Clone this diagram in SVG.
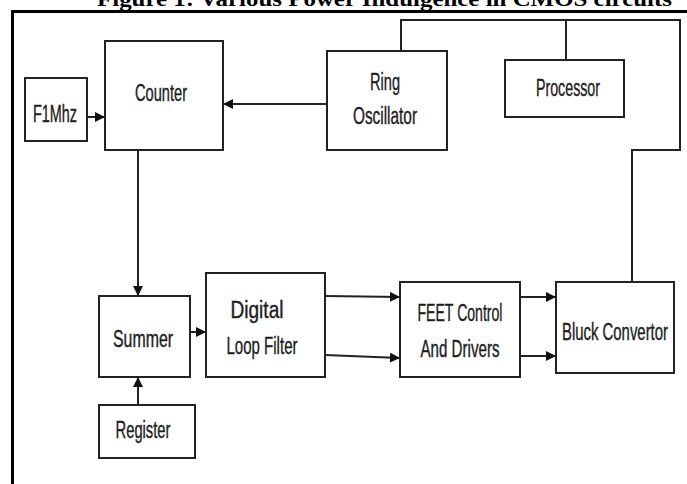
<svg xmlns="http://www.w3.org/2000/svg" width="687" height="484" viewBox="0 0 687 484">
<defs>
<style>
.box{fill:#fff;stroke:#222;stroke-width:2}
.lbl{font-family:"Liberation Sans","Open Sans",sans-serif;font-size:23px;fill:#1e1e1e;stroke:#1e1e1e;stroke-width:0.4;text-anchor:middle}
.con{fill:none;stroke:#222;stroke-width:2}
.title{font-family:"Liberation Serif","Times New Roman",serif;font-weight:bold;font-size:22px;fill:#000}
</style>
<marker id="ah" viewBox="0 0 10 10" refX="10" refY="5" markerWidth="10" markerHeight="10" markerUnits="userSpaceOnUse" orient="auto">
<path d="M0,0 L10,5 L0,10 z" fill="#111"/>
</marker>
</defs>
<rect width="687" height="484" fill="#fff"/>
<text class="title" x="97" y="6" textLength="575" lengthAdjust="spacingAndGlyphs">Figure 1: Various Power Indulgence in CMOS circuits</text>
<g id="frame">
<line x1="11" y1="11.5" x2="687" y2="11.5" stroke="#000" stroke-width="3"/>
<line x1="12.5" y1="10" x2="12.5" y2="484" stroke="#000" stroke-width="3"/>
</g>
<g id="connectors">
<line class="con" x1="87" y1="117" x2="105" y2="117" marker-end="url(#ah)"/>
<line class="con" x1="327" y1="104" x2="223" y2="104" marker-end="url(#ah)"/>
<polyline class="con" points="401,51 401,20 680,20 680,150 632,150 632,282"/>
<line class="con" x1="566" y1="20" x2="566" y2="60"/>
<line class="con" x1="138" y1="150" x2="138" y2="296" marker-end="url(#ah)"/>
<line class="con" x1="138" y1="405" x2="138" y2="377" marker-end="url(#ah)"/>
<line class="con" x1="190" y1="332" x2="206" y2="332" marker-end="url(#ah)"/>
<line class="con" x1="325" y1="296" x2="400" y2="297" marker-end="url(#ah)"/>
<line class="con" x1="325" y1="355" x2="400" y2="358" marker-end="url(#ah)"/>
<line class="con" x1="520" y1="297" x2="556" y2="297" marker-end="url(#ah)"/>
<line class="con" x1="520" y1="356" x2="556" y2="356" marker-end="url(#ah)"/>
</g>
<g id="f1mhz"><rect class="box" x="25" y="78" width="62" height="63"/><text class="lbl" x="55" y="122" textLength="44" lengthAdjust="spacingAndGlyphs">F1Mhz</text></g>
<g id="counter"><rect class="box" x="105" y="41" width="118" height="109"/><text class="lbl" x="161" y="101" textLength="52" lengthAdjust="spacingAndGlyphs">Counter</text></g>
<g id="ring"><rect class="box" x="327" y="51" width="120" height="99"/><text class="lbl" x="385" y="90" textLength="30" lengthAdjust="spacingAndGlyphs">Ring</text><text class="lbl" x="385" y="124" textLength="64" lengthAdjust="spacingAndGlyphs">Oscillator</text></g>
<g id="processor"><rect class="box" x="505" y="60" width="119" height="57"/><text class="lbl" x="568" y="96" textLength="64" lengthAdjust="spacingAndGlyphs">Processor</text></g>
<g id="summer"><rect class="box" x="99" y="296" width="91" height="81"/><text class="lbl" x="143" y="347" textLength="60" lengthAdjust="spacingAndGlyphs">Summer</text></g>
<g id="register"><rect class="box" x="99" y="405" width="96" height="53"/><text class="lbl" x="143" y="438" textLength="55" lengthAdjust="spacingAndGlyphs">Register</text></g>
<g id="filter"><rect class="box" x="206" y="273" width="119" height="104"/><text class="lbl" x="257" y="318" textLength="53" lengthAdjust="spacingAndGlyphs">Digital</text><text class="lbl" x="262" y="354" textLength="71" lengthAdjust="spacingAndGlyphs">Loop Filter</text></g>
<g id="feet"><rect class="box" x="400" y="282" width="120" height="95"/><text class="lbl" x="460" y="321" textLength="85" lengthAdjust="spacingAndGlyphs">FEET Control</text><text class="lbl" x="460" y="357" textLength="79" lengthAdjust="spacingAndGlyphs">And Drivers</text></g>
<g id="bluck"><rect class="box" x="556" y="282" width="118" height="91"/><text class="lbl" x="615" y="340" textLength="106" lengthAdjust="spacingAndGlyphs">Bluck Convertor</text></g>
</svg>
